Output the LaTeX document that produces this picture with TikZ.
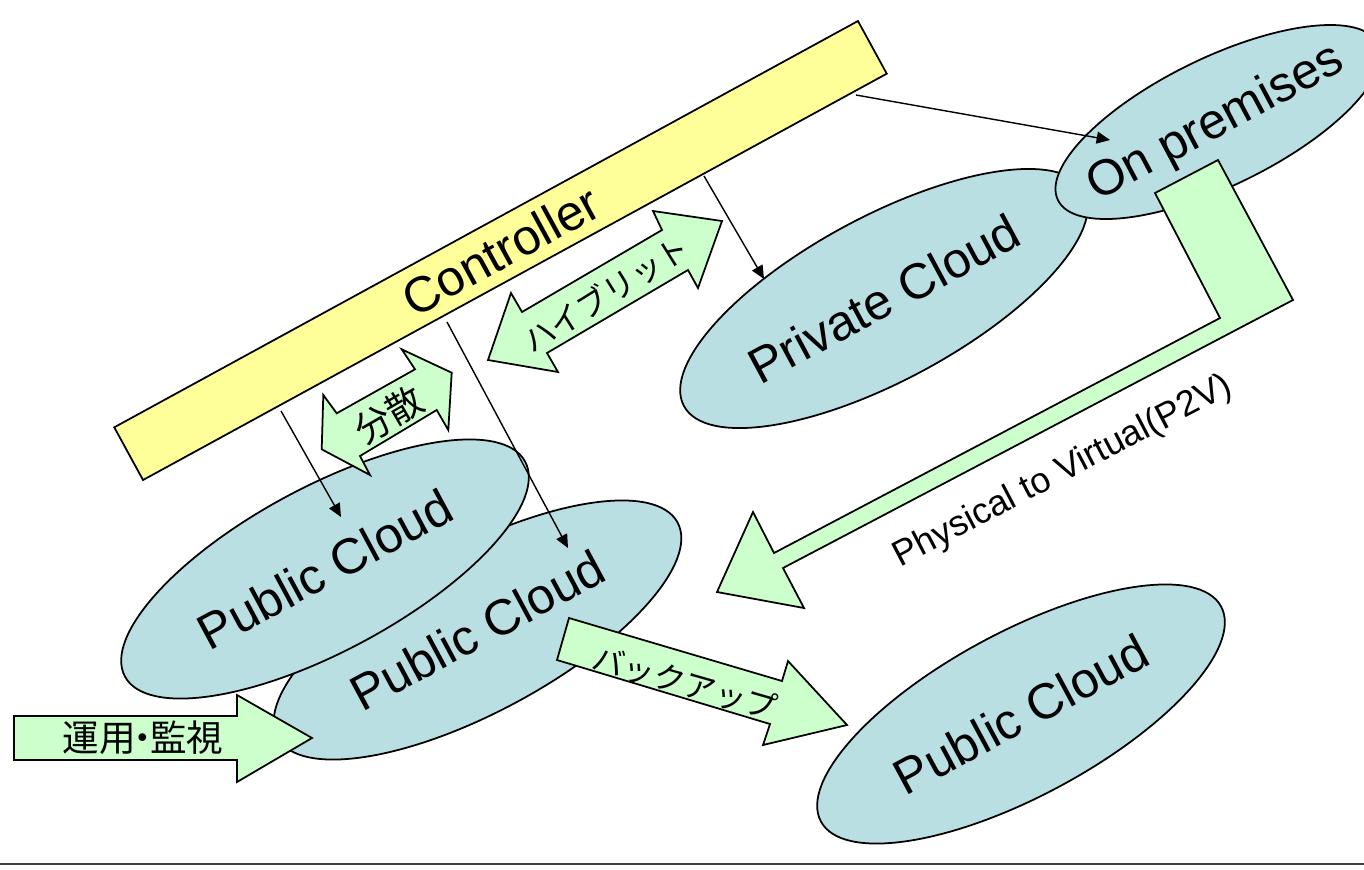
\documentclass[tikz,border=0pt]{standalone}
\usepackage{fontspec}
\setmainfont{Liberation Sans}
\newfontfamily\jpfont{Noto Sans CJK JP}
\usepackage{tikz}
\usetikzlibrary{shapes.geometric,arrows.meta,calc}
\definecolor{barfill}{HTML}{FFFF99}
\definecolor{arrfill}{HTML}{CCFFCC}
\definecolor{cloudfill}{HTML}{B9DFE3}
\tikzset{
  bar/.style={draw=black, line width=0.5pt, fill=barfill, rectangle, inner sep=0pt},
  cloud/.style={draw=black, line width=0.5pt, fill=cloudfill, ellipse, inner sep=0pt},
  blockarr/.style={draw=black, line width=0.5pt, fill=arrfill, line join=miter},
  link/.style={draw=black, line width=0.4pt, -{Triangle[length=3.8pt,width=3.4pt]}},
  bigtxt/.style={font=\fontsize{14.2pt}{16pt}\selectfont, inner sep=0pt},
  smalltxt/.style={font=\fontsize{10.2pt}{12pt}\selectfont, inner sep=0pt},
  jptxt/.style={font=\jpfont\fontsize{10.4pt}{12pt}\selectfont, inner sep=0pt},
  kanatxt/.style={font=\jpfont\fontsize{9pt}{11pt}\selectfont, inner sep=0pt}
}

\begin{document}
\begin{tikzpicture}[x=0.01cm, y=-0.01cm]
  \useasboundingbox (0,0) rectangle (1364,869);

  % controller bar
  \node[bar, minimum width=8.47cm, minimum height=0.6cm, rotate=28.65] (ctrl) at (500.5,250.5) {};
  \node[bigtxt, rotate=28.65] (ctrl-lab) at (ctrl) {Controller};

  % clouds, back to front
  \node[cloud, minimum width=4.54cm, minimum height=1.64cm, rotate=28.25] (pub2) at (477.5,630) {};
  \node[cloud, minimum width=4.54cm, minimum height=1.64cm, rotate=28.25] (pub1) at (325,569) {};
  \node[cloud, minimum width=4.54cm, minimum height=1.64cm, rotate=28.25] (pub3) at (1021,714) {};
  \node[cloud, minimum width=4.54cm, minimum height=1.64cm, rotate=28.25] (priv) at (884,298.5) {};
  \node[cloud, minimum width=3.56cm, minimum height=1.28cm, rotate=26] (onp) at (1218,122) {};

  \node[bigtxt, rotate=28.25] (pub1-lab) at (pub1) {Public Cloud};
  \node[bigtxt, rotate=28.25] (pub2-lab) at (pub2) {Public Cloud};
  \node[bigtxt, rotate=28.25] (pub3-lab) at (pub3) {Public Cloud};
  \node[bigtxt, rotate=28.25] (priv-lab) at (priv) {Private Cloud};
  \node[bigtxt, rotate=28] (onp-lab) at (1216,124) {On premises};

  % thin arrows from the controller
  \coordinate (ctrl-onp) at (856,95);
  \coordinate (ctrl-priv) at (704,176);
  \coordinate (ctrl-pub1) at (281,411);
  \coordinate (ctrl-pub2) at (447,322);
  \coordinate (onp-in) at (1110,140);
  \coordinate (priv-in) at (764,279);
  \coordinate (pub1-in) at (341,517);
  \coordinate (pub2-in) at (568,548);
  \draw[link] (ctrl-onp) -- (onp-in);
  \draw[link] (ctrl-priv) -- (priv-in);
  \draw[link] (ctrl-pub1) -- (pub1-in);
  \draw[link] (ctrl-pub2) -- (pub2-in);

  % block arrows
  \draw[blockarr] (722,221) -- (698,288) -- (688,270) -- (547,353) -- (558,372)
    -- (488,360) -- (511,293) -- (522,312) -- (662,230) -- (653,211) -- cycle;
  \node[kanatxt, rotate=32] (hyb) at (606,294) {ハイブリット};

  \draw[blockarr] (401.7,349.3) -- (451.7,372.7) -- (448.3,430) -- (436.7,410) -- (360,456)
    -- (370,475) -- (321.7,449.3) -- (323.3,395) -- (336.7,413.3) -- (415,369.3) -- cycle;
  \node[jptxt, rotate=30] (dist) at (389,415) {分散};

  \draw[blockarr] (1155,193) -- (1218,160) -- (1293,300) -- (783,568) -- (804,608)
    -- (717,592) -- (753,512) -- (774,553) -- (1220,318) -- cycle;
  \node[smalltxt, rotate=27.6] (p2v) at (1063,472) {Physical to Virtual(P2V)};

  \draw[blockarr] (569,618) -- (782,681) -- (788,661) -- (847,725) -- (763,745)
    -- (770,724) -- (557,660) -- cycle;
  \node[kanatxt, rotate=-16] (bkup) at (685,683) {バックアップ};

  \draw[blockarr] (14,716) -- (237,716) -- (237,695) -- (312,738) -- (237,782)
    -- (237,760) -- (14,760) -- cycle;
  \node[jptxt] (ops) at (143,738) {運用\hspace{-0.3em}・\hspace{-0.3em}監視};

  % rule at the foot
  \draw[line width=0.6pt, black!75] (0,864) -- (1364,864);
\end{tikzpicture}
\end{document}
